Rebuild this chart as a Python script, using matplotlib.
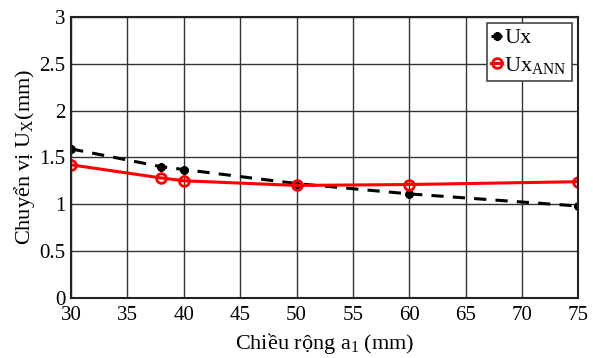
import numpy as np
import matplotlib
matplotlib.use('Agg')
import matplotlib.pyplot as plt

plt.rcParams['font.family'] = ['Liberation Serif', 'DejaVu Serif']
plt.rcParams['mathtext.fontset'] = 'custom'
plt.rcParams['mathtext.rm'] = 'Liberation Serif'
plt.rcParams['mathtext.it'] = 'Liberation Serif'

# chieu rong a1 (mm)
a1 = [30, 38, 40, 50, 60, 75]
ux = [1.59, 1.40, 1.37, 1.22, 1.11, 0.98]
ux_ann = [1.42, 1.28, 1.25, 1.20, 1.21, 1.24]

xticks = [30, 35, 40, 45, 50, 55, 60, 65, 70, 75]
yticks = [0, 0.5, 1, 1.5, 2, 2.5, 3]

fig = plt.figure(figsize=(5.93, 3.58), dpi=100)
ax = fig.add_axes([0.12, 0.168, 0.855, 0.785])

ax.plot(a1, ux, '--k', lw=2.2, marker=(8, 2, 0), ms=6, mew=2, label='Ux', dashes=(4, 3))
ax.plot(a1, ux_ann, '-', color='red', lw=2.2, marker='o', ms=7, mfc='none',
        mec='red', mew=2, label=r'Ux$_{\mathrm{ANN}}$')

ax.set_xlim(30, 75)
ax.set_ylim(0, 3)
ax.set_xticks(xticks)
ax.set_yticks(yticks)
ax.set_yticklabels(['0', '0.5', '1', '1.5', '2', '2.5', '3'])
ax.tick_params(labelsize=15, direction='in', length=0)
ax.tick_params(axis='x', pad=6)
ax.tick_params(axis='y', pad=4)
ax.grid(True, color='#333333', lw=1.0)
for s in ax.spines.values():
    s.set_linewidth(1.5)
    s.set_color('#222222')

ax.set_xlabel(r'Chiều rộng a$_1$ (mm)', fontsize=16, labelpad=4)
ax.set_ylabel(r'Chuyển vị U$_\mathrm{X}$(mm)', fontsize=16, labelpad=2)

leg = ax.legend(loc='upper right', fontsize=16, fancybox=False, framealpha=1,
                edgecolor='#444444', handlelength=0.5, handletextpad=0.1,
                borderpad=0.2, labelspacing=0.3, borderaxespad=0.3)
leg.get_frame().set_linewidth(1.2)

plt.savefig('out.png', dpi=100)
